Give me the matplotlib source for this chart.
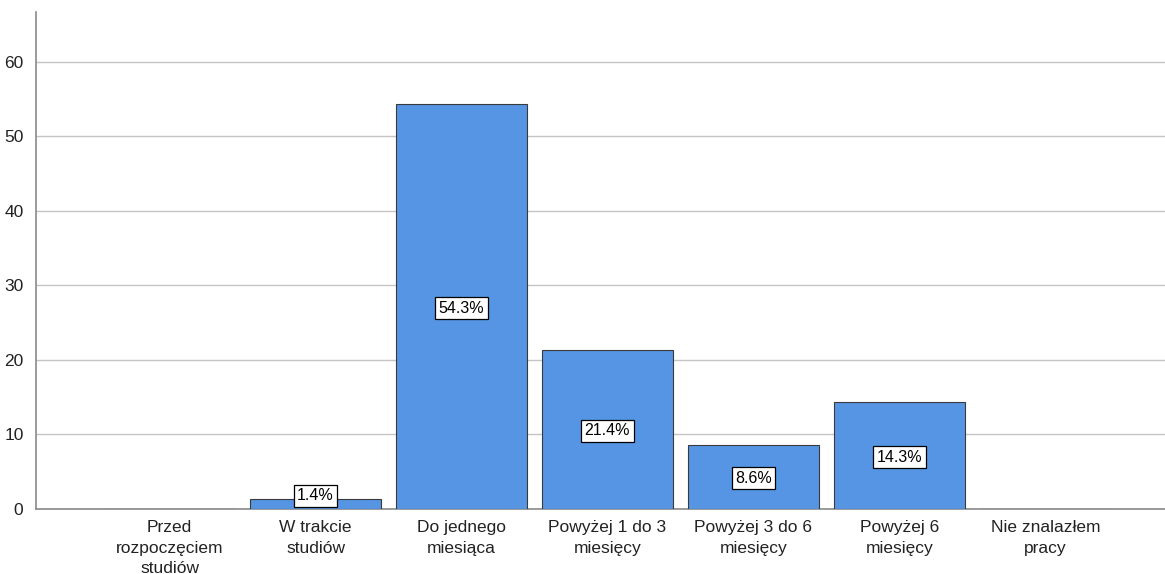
import matplotlib
matplotlib.use("Agg")
import matplotlib.pyplot as plt

categories = ["Przed\nrozpoczęciem\nstudiów", "W trakcie\nstudiów", "Do jednego\nmiesiąca",
              "Powyżej 1 do 3\nmiesięcy", "Powyżej 3 do 6\nmiesięcy", "Powyżej 6\nmiesięcy",
              "Nie znalazłem\npracy"]
values = [0, 1.4, 54.3, 21.4, 8.6, 14.3, 0]
labels = ["", "1.4%", "54.3%", "21.4%", "8.6%", "14.3%", ""]
yticks = [0, 10, 20, 30, 40, 50, 60]

plt.rcParams['font.family'] = ['Liberation Sans', 'DejaVu Sans']

fig = plt.figure(figsize=(11.65, 5.74), dpi=100)
ax = fig.add_axes([36/1165, 65/574, 1 - 36/1165, (509-12)/574])

x = list(range(len(categories)))
ax.bar(x, values, width=0.9, color="#5595E3", edgecolor="#3a3a3a", linewidth=0.8, zorder=3)

for xi, v, lab in zip(x, values, labels):
    if lab:
        ax.text(xi, max(v / 2, 2.0), lab, ha="center", va="center_baseline", fontsize=11.5, zorder=4,
                bbox=dict(boxstyle="square,pad=0.22", facecolor="white", edgecolor="black", linewidth=0.9))

ax.set_xlim(-0.915, 6.82)
ax.set_ylim(0, 66.7)
ax.set_yticks(yticks)
ax.set_xticks(x)
ax.set_xticklabels(categories, fontsize=12.5, linespacing=1.45)
ax.tick_params(axis="both", length=0, colors="#222222")
ax.tick_params(axis="y", labelsize=12.5, pad=9)
ax.tick_params(axis="x", pad=8)
ax.yaxis.grid(True, color="#c4c4c4", linewidth=1.0, zorder=0)
ax.set_axisbelow(True)
for s in ["top", "right"]:
    ax.spines[s].set_visible(False)
for s in ["left", "bottom"]:
    ax.spines[s].set_color("#8a8a8a")
    ax.spines[s].set_linewidth(1.2)

fig.savefig("out.png", dpi=100)
